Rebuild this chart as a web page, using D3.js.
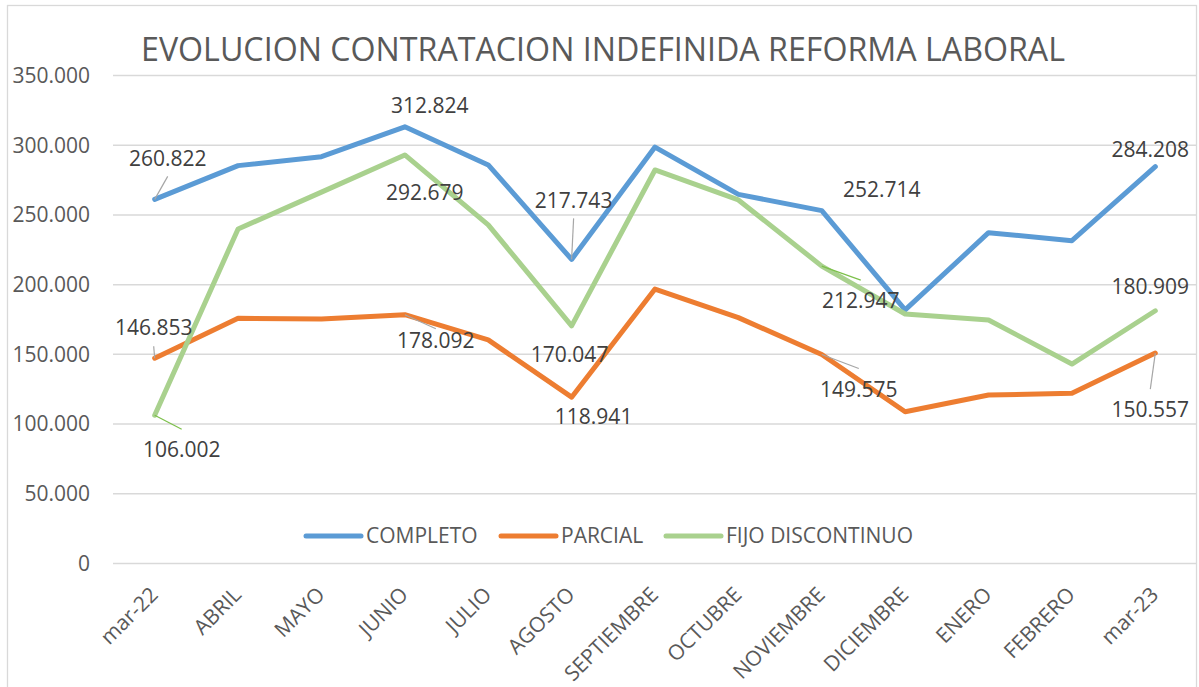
<!DOCTYPE html>
<html>
<head>
<meta charset="utf-8">
<script src="https://cdn.jsdelivr.net/npm/d3@7"></script>
<style>
  html, body { margin: 0; padding: 0; background: #ffffff; }
  svg { display: block; font-family: "Open Sans", "DejaVu Sans", sans-serif; }
</style>
</head>
<body>
<svg id="chart" width="1199" height="687"></svg>
<script>
// ---- Data ----
const titleText = "EVOLUCION CONTRATACION INDEFINIDA REFORMA LABORAL";
const categories = ["mar-22", "ABRIL", "MAYO", "JUNIO", "JULIO", "AGOSTO", "SEPTIEMBRE",
                    "OCTUBRE", "NOVIEMBRE", "DICIEMBRE", "ENERO", "FEBRERO", "mar-23"];
const seriesNames = ["COMPLETO", "PARCIAL", "FIJO DISCONTINUO"];
const completo = [260822, 285000, 291400, 312824, 285500, 217743, 298300, 264400, 252714, 181500, 236900, 231200, 284208];
const parcial  = [146853, 175500, 175000, 178092, 160000, 118941, 196500, 176000, 149575, 108500, 120500, 121700, 150557];
const fijo     = [106002, 239600, 266000, 292679, 242500, 170047, 281900, 260400, 212947, 178600, 174300, 142700, 180909];
const yTicks = [0, 50000, 100000, 150000, 200000, 250000, 300000, 350000];
const labelledIndexes = [0, 3, 5, 8, 12];

// ---- Styles / layout ----
const colors = ["#5B9BD5", "#ED7D31", "#A9D18E"];
const leaderColors = ["#A6A6A6", "#A6A6A6", "#7CC04A"];
// label offsets (center of label relative to point) and optional leader end offsets
const labelLayout = [
  [ {dx:13, dy:-41, lx:13, ly:-23}, {dx:25, dy:-21}, {dx:2, dy:-59, lx:2, ly:-41}, {dx:60, dy:-21}, {dx:-5, dy:-17} ],
  [ {dx:-1, dy:-31, lx:-1, ly:-12}, {dx:31, dy:26, lx:31, ly:14}, {dx:22, dy:19}, {dx:37, dy:35, lx:37, ly:14}, {dx:-5, dy:56, lx:-5, ly:36} ],
  [ {dx:27, dy:34, lx:27, ly:14}, {dx:20, dy:38}, {dx:-2, dy:29}, {dx:39, dy:34, lx:39, ly:14}, {dx:-5, dy:-24} ]
];

const svg = d3.select("#chart");
const W = 1199, H = 687;
const plot = { left: 113, right: 1197, top: 75, bottom: 563 };

const fmtLocale = d3.formatLocale({ decimal: ",", thousands: ".", grouping: [3], currency: ["", ""] });
const fmt = fmtLocale.format(",.0f");

// chart border
svg.append("rect")
  .attr("x", 7.5).attr("y", 5.5)
  .attr("width", 1189).attr("height", 700)
  .attr("fill", "#ffffff")
  .attr("stroke", "#D9D9D9").attr("stroke-width", 1.3);

const x = d3.scalePoint().domain(categories).range([plot.left, plot.right]).padding(0.5);
const y = d3.scaleLinear().domain([0, 350000]).range([plot.bottom, plot.top]);

// title
svg.append("text")
  .attr("x", 603).attr("y", 61)
  .attr("text-anchor", "middle")
  .attr("font-size", 32)
  .attr("fill", "#595959")
  .attr("textLength", 924)
  .attr("lengthAdjust", "spacingAndGlyphs")
  .text(titleText);

// y axis with gridlines
const yAxis = d3.axisLeft(y)
  .tickValues(yTicks)
  .tickSizeInner(-(plot.right - plot.left))
  .tickSizeOuter(0)
  .tickPadding(23)
  .tickFormat(d => fmt(d));

const gy = svg.append("g").attr("transform", `translate(${plot.left},0)`).call(yAxis);
gy.select(".domain").remove();
gy.selectAll(".tick line").attr("stroke", "#D9D9D9").attr("stroke-width", 1.5);
gy.selectAll(".tick text")
  .attr("fill", "#595959")
  .attr("font-size", 21)
  .attr("font-family", "Open Sans, DejaVu Sans, sans-serif")
  .attr("dy", "0.35em");

// x axis labels
const xAxis = d3.axisBottom(x).tickSize(0).tickPadding(0);
const gx = svg.append("g").attr("transform", `translate(0,${plot.bottom})`).call(xAxis);
gx.select(".domain").remove();
gx.selectAll(".tick text")
  .attr("fill", "#595959")
  .attr("font-size", 21)
  .attr("font-family", "Open Sans, DejaVu Sans, sans-serif")
  .attr("text-anchor", "end")
  .attr("x", 0).attr("y", 0).attr("dy", 0)
  .attr("transform", "translate(4,33) rotate(-45)");

// lines
const allSeries = [completo, parcial, fijo];
const line = d3.line()
  .x((d, i) => x(categories[i]))
  .y(d => y(d));

allSeries.forEach((vals, s) => {
  svg.append("path")
    .datum(vals)
    .attr("d", line)
    .attr("fill", "none")
    .attr("stroke", colors[s])
    .attr("stroke-width", 5)
    .attr("stroke-linejoin", "round")
    .attr("stroke-linecap", "round");
});

// leader lines and data labels
const labelG = svg.append("g");
allSeries.forEach((vals, s) => {
  labelledIndexes.forEach((idx, k) => {
    const L = labelLayout[s][k];
    const px = x(categories[idx]), py = y(vals[idx]);
    if (L.lx !== undefined) {
      labelG.append("line")
        .attr("x1", px).attr("y1", py)
        .attr("x2", px + L.lx).attr("y2", py + L.ly)
        .attr("stroke", leaderColors[s]).attr("stroke-width", 1.2);
    }
  });
});
allSeries.forEach((vals, s) => {
  labelledIndexes.forEach((idx, k) => {
    const L = labelLayout[s][k];
    const px = x(categories[idx]), py = y(vals[idx]);
    labelG.append("text")
      .attr("x", px + L.dx).attr("y", py + L.dy + 7.5)
      .attr("text-anchor", "middle")
      .attr("font-size", 21)
      .attr("fill", "#404040")
      .text(fmt(vals[idx]));
  });
});

// legend
const legendItems = [
  { name: seriesNames[0], x1: 306, x2: 361, tx: 366 },
  { name: seriesNames[1], x1: 501, x2: 556, tx: 561 },
  { name: seriesNames[2], x1: 666, x2: 721, tx: 726 }
];
const lg = svg.append("g");
legendItems.forEach((it, i) => {
  lg.append("line")
    .attr("x1", it.x1).attr("x2", it.x2)
    .attr("y1", 536).attr("y2", 536)
    .attr("stroke", colors[i]).attr("stroke-width", 5)
    .attr("stroke-linecap", "round");
  lg.append("text")
    .attr("x", it.tx).attr("y", 542.5)
    .attr("font-size", 21)
    .attr("fill", "#595959")
    .text(it.name);
});
</script>
</body>
</html>
